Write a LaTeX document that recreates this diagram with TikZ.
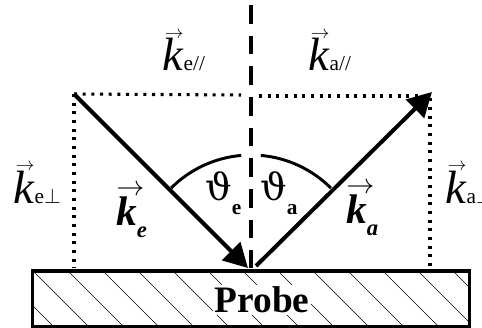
\RequirePackage{fix-cm}
\documentclass[tikz,border=0pt]{standalone}
\usepackage{amsmath}
\usepackage{fontspec}
\setmainfont{Liberation Serif}
\newfontfamily\grk{DejaVu Serif}
\usetikzlibrary{arrows.meta, positioning}

\tikzset{
  vecarrow/.style={line width=3pt, -{Triangle[length=18pt, width=19pt]}},
  dotline/.style={line width=2.3pt, dash pattern=on 2.3pt off 4.2pt},
  normline/.style={line width=3pt, dash pattern=on 14pt off 9pt},
  lbl/.style={anchor=base west, inner sep=0pt},
}
% arrow size, raise, shift, letter
\newcommand{\arrowon}[4]{\rlap{\kern#3\raisebox{#2}{\fontsize{#1}{#1}\selectfont$\rightarrow$}}#4}
\newcommand{\kvec}[1]{{\fontsize{35}{40}\selectfont\arrowon{14pt}{24.5pt}{2pt}{\textit{k}}}{\fontsize{16}{16}\selectfont #1}}
\newcommand{\kbold}[1]{{\fontsize{31}{36}\selectfont\arrowon{21pt}{22pt}{0pt}{\textbf{\textit{k}}}}\raisebox{-9pt}{\fontsize{17}{17}\selectfont\textbf{\textit{#1}}}}
\newcommand{\angl}[1]{{\fontsize{28}{30}\selectfont\grk ϑ}\raisebox{-11pt}{\fontsize{16}{16}\selectfont\textbf{#1}}}

\begin{document}
\begin{tikzpicture}[x=0.75pt, y=-0.75pt]
    \useasboundingbox (0,0) rectangle (482,328);
    % points
    \coordinate (tl) at (74,94);
    \coordinate (tr) at (432,92);
    \coordinate (ein) at (248,268);
    \coordinate (aus) at (256,266);
    \coordinate (ntop) at (251,5);
    \coordinate (o) at (251,268);

    % probe with hatching
    \begin{scope}
        \clip (32,271) rectangle (470,327);
        \foreach \x in {-37,-2,...,470}
            \draw[line width=0.5pt] (\x,271) -- ++(56,56);
    \end{scope}
    \node[fill=white, inner sep=1.5pt, font=\fontsize{28}{30}\selectfont\bfseries] (probe) at (262,300) {Probe};
    \draw[line width=2.3pt] (32.5,271) rectangle (469.5,326.5);

    % components
    \draw[dotline] (tl) -- (241,95);
    \draw[dotline] (259,96) -- (430,96) -- (430,268);
    \draw[dotline] (tl) -- (74,268);

    % normal
    \draw[normline] (ntop) -- (o);

    % angles (y axis points down)
    \draw[line width=2.2pt] (o) ++(-135:113) arc[start angle=-135, end angle=-95, radius=113];
    \draw[line width=2.2pt] (o) ++(-85:113) arc[start angle=-85, end angle=-45, radius=113];

    % wave vectors
    \draw[vecarrow] (tl) -- (ein);
    \draw[vecarrow] (aus) -- (tr);

    % labels
    \node[lbl] (kepar) at (162,71) {\kvec{e//}};
    \node[lbl] (kapar) at (308,71) {\kvec{a//}};
    \node[lbl] (keperp) at (13,203) {\kvec{e$\perp$}};
    \node[lbl] (kaperp) at (445,203) {\kvec{a$\perp$}};
    \node[lbl] (ke) at (116,225) {\kbold{e}};
    \node[lbl] (ka) at (346,223) {\kbold{a}};
    \node[lbl] (the) at (205,200) {\angl{e}};
    \node[lbl] (tha) at (260,200) {\angl{a}};
\end{tikzpicture}
\end{document}
